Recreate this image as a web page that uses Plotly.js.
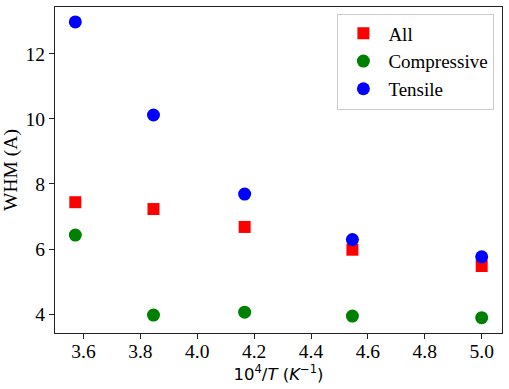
<!DOCTYPE html>
<html>
<head>
<meta charset="utf-8">
<script src="https://cdn.plot.ly/plotly-3.0.1.min.js"></script>
<style>html,body{margin:0;padding:0;background:#fff;}#chart{width:509px;height:389px;}</style>
</head>
<body>
<div id="chart"></div>
<script>
const xValues = [3.5714, 3.8462, 4.1667, 4.5455, 5.0];
const allValues = [7.44, 7.23, 6.68, 5.98, 5.48];
const compressiveValues = [6.43, 3.97, 4.06, 3.94, 3.89];
const tensileValues = [12.98, 10.12, 7.69, 6.29, 5.76];
const seriesNames = ["All", "Compressive", "Tensile"];
const xTicks = [3.6, 3.8, 4.0, 4.2, 4.4, 4.6, 4.8, 5.0];
const yTicks = [4, 6, 8, 10, 12];

const font = "'Liberation Serif', 'Times New Roman', serif";
const mathFont = "'DejaVu Sans', sans-serif";
const fs = 19.5;
const traces = [
  {x: xValues, y: allValues, name: seriesNames[0], mode: "markers", type: "scatter",
   marker: {symbol: "square", size: 12, color: "#ff0000"}},
  {x: xValues, y: compressiveValues, name: seriesNames[1], mode: "markers", type: "scatter",
   marker: {symbol: "circle", size: 13, color: "#008000"}},
  {x: xValues, y: tensileValues, name: seriesNames[2], mode: "markers", type: "scatter",
   marker: {symbol: "circle", size: 13, color: "#0000ff"}}
];
const layout = {
  width: 509, height: 389,
  margin: {l: 55, r: 7, t: 7, b: 56},
  paper_bgcolor: "#fff", plot_bgcolor: "#fff",
  font: {family: font, size: fs, color: "#000"},
  showlegend: true,
  legend: {x: 0.983, xanchor: "right", y: 0.98, yanchor: "top", itemwidth: 40,
    bgcolor: "rgba(255,255,255,0.8)", bordercolor: "#cccccc", borderwidth: 1,
    font: {family: font, size: 19, color: "#000"}, tracegroupgap: 0},
  xaxis: {range: [3.5, 5.0714], tickvals: xTicks, ticktext: xTicks.map(v => v.toFixed(1)),
    showgrid: false, zeroline: false, showline: true, linecolor: "#222", linewidth: 1.2, mirror: true,
    ticks: "outside", ticklen: 0, tickwidth: 1, tickcolor: "#222",
    minor: {tickvals: xTicks, ticks: "outside", ticklen: 5, tickwidth: 1, tickcolor: "#222", showgrid: false},
    tickfont: {family: font, size: fs, color: "#000"},
    title: {text: "10<sup>4</sup>/<i>T</i> (<i>K</i><sup>−1</sup>)", font: {family: mathFont, size: 16.5, color: "#000"}, standoff: 4}},
  yaxis: {range: [3.42, 13.44], tickvals: yTicks, ticktext: yTicks.map(String),
    showgrid: false, zeroline: false, showline: true, linecolor: "#222", linewidth: 1.2, mirror: true,
    ticks: "outside", ticklen: 5, tickwidth: 1, tickcolor: "#222",
    tickfont: {family: font, size: fs, color: "#000"},
    title: {text: "WHM (A)", font: {family: font, size: fs, color: "#000"}, standoff: 5}}
};
Plotly.newPlot("chart", traces, layout, {displayModeBar: false, staticPlot: true});
</script>
</body>
</html>
